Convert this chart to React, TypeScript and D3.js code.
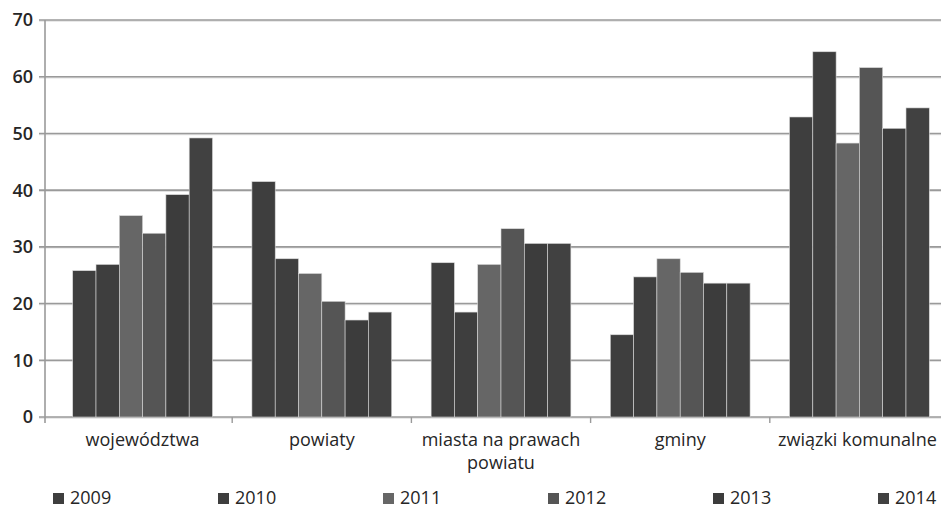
import * as d3 from "d3";

const categories = ["województwa", "powiaty", "miasta na prawach powiatu", "gminy", "związki komunalne"];
const categoryLines = [["województwa"], ["powiaty"], ["miasta na prawach", "powiatu"], ["gminy"], ["związki komunalne"]];
const years = ["2009", "2010", "2011", "2012", "2013", "2014"];

// values per year, in category order
const v2009 = [25.8, 41.5, 27.2, 14.5, 52.9];
const v2010 = [26.9, 27.9, 18.5, 24.7, 64.4];
const v2011 = [35.5, 25.3, 26.9, 27.9, 48.3];
const v2012 = [32.4, 20.4, 33.2, 25.5, 61.6];
const v2013 = [39.2, 17.1, 30.6, 23.6, 50.9];
const v2014 = [49.2, 18.5, 30.6, 23.6, 54.5];
const series = [v2009, v2010, v2011, v2012, v2013, v2014];

const yTicks = [0, 10, 20, 30, 40, 50, 60, 70];
const colors = ["#3e3e3e", "#3e3e3e", "#666666", "#555555", "#3c3c3c", "#414141"];

const W = 941;
const H = 511;
const axisX = 45;
const font = "'Open Sans', 'Noto Sans', sans-serif";

export default function App() {
  const y = d3.scaleLinear().domain([0, 70]).range([417, 20]);
  const x0 = d3
    .scaleBand<string>()
    .domain(categories)
    .range([53, 949])
    .paddingInner(0.22)
    .paddingOuter(0.11);
  const x1 = d3.scaleBand<string>().domain(years).range([0, x0.bandwidth()]);
  const step = x0.step();
  const boundaries = categories.map((c) => (x0(c) as number) - (step * 0.22) / 2);

  return (
    <svg width={W} height={H} style={{ position: "absolute", left: 0, top: 0, background: "#fff" }}>
      {/* gridlines */}
      {yTicks.map((t) => (
        <g key={t}>
          <line x1={39} x2={W} y1={y(t) + 1} y2={y(t) + 1} stroke="#e2e2e2" strokeWidth={1.5} />
          <line x1={39} x2={W} y1={y(t)} y2={y(t)} stroke="#9a9a9a" strokeWidth={1.6} />
          <text
            x={33}
            y={y(t)}
            dy="0.36em"
            textAnchor="end"
            fontFamily={font}
            fontSize={18}
            fontWeight={600}
            fill="#262626"
          >
            {t}
          </text>
        </g>
      ))}
      <line x1={axisX} x2={axisX} y1={y(70)} y2={y(0) + 6} stroke="#9a9a9a" strokeWidth={1.6} />
      {boundaries.slice(1).map((b, i) => (
        <line key={i} x1={b} x2={b} y1={y(0)} y2={y(0) + 6} stroke="#9a9a9a" strokeWidth={1.4} />
      ))}

      {/* bars */}
      {categories.map((c, ci) => (
        <g key={c} transform={`translate(${x0(c)},0)`}>
          {years.map((yr, si) => (
            <rect
              key={yr}
              x={x1(yr)}
              y={y(series[si][ci])}
              width={x1.bandwidth()}
              height={y(0) - y(series[si][ci])}
              fill={colors[si]}
              stroke="#d8d8d8"
              strokeWidth={0.6}
            />
          ))}
        </g>
      ))}

      {/* category labels */}
      {categories.map((c, ci) => {
        const cx = (x0(c) as number) + x0.bandwidth() / 2 - (ci === 4 ? 2 : 0);
        return categoryLines[ci].map((line, li) => (
          <text
            key={c + li}
            x={cx}
            y={440 + li * 23}
            dy="0.35em"
            textAnchor="middle"
            fontFamily={font}
            fontSize={18}
            fill="#262626"
          >
            {line}
          </text>
        ));
      })}

      {/* legend */}
      {years.map((yr, si) => (
        <g key={yr} transform={`translate(${53 + si * 165},${498})`}>
          <rect x={0} y={-5} width={11} height={11} fill={colors[si]} />
          <text x={17} y={0} dy="0.36em" fontFamily={font} fontSize={18} fill="#262626">
            {yr}
          </text>
        </g>
      ))}
    </svg>
  );
}
